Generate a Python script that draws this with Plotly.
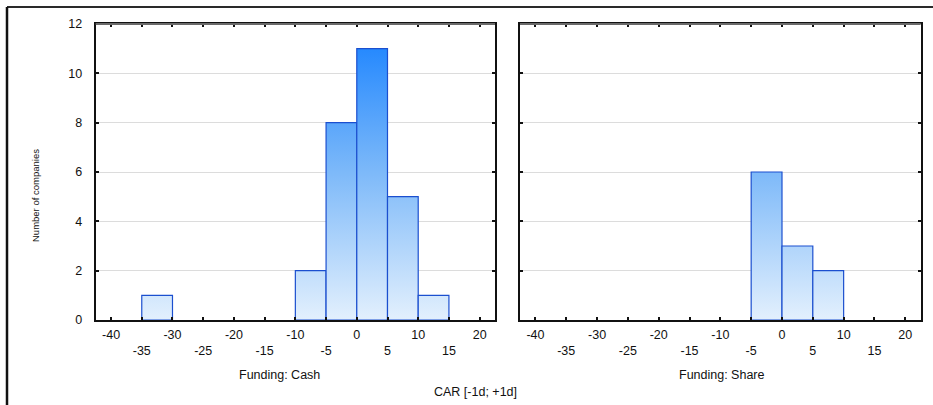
import plotly.graph_objects as go

# ---- data ----
bin_lefts = [-40, -35, -30, -25, -20, -15, -10, -5, 0, 5, 10, 15]
bin_width = 5
cash_counts = [0, 1, 0, 0, 0, 0, 2, 8, 11, 5, 1, 0]
share_counts = [0, 0, 0, 0, 0, 0, 0, 6, 3, 2, 0, 0]
panel_titles = ["Funding: Cash", "Funding: Share"]
x_title = "CAR [-1d; +1d]"
y_title = "Number of companies"
x_ticks = list(range(-40, 25, 5))
y_ticks = list(range(0, 14, 2))

W, H = 933, 405
def px(x):
    return x / W
def py(y):
    return 1 - y / H

FONT = "Liberation Sans, Arial, sans-serif"
FS = 12.5
grad = dict(type="vertical", start=0, stop=12,
            colorscale=[[0, "#e3f0fd"], [0.5, "#7db9f9"], [1, "#1580ff"]])

fig = go.Figure()
for i, counts in enumerate([cash_counts, share_counts]):
    xa = "x" if i == 0 else "x2"
    ya = "y" if i == 0 else "y2"
    for left, c in zip(bin_lefts, counts):
        if c <= 0:
            continue
        r = left + bin_width
        fig.add_trace(go.Scatter(
            x=[left, left, r, r, left], y=[0, c, c, 0, 0],
            mode="lines", fill="toself", fillgradient=grad,
            line=dict(color="#1b4fcf", width=1.2),
            xaxis=xa, yaxis=ya, showlegend=False, hoverinfo="skip"))

tick_text = [(f"<br>{v}" if v % 10 else f"{v}") for v in x_ticks]
xcommon = dict(range=[-42.5, 22.5], tickmode="array", tickvals=x_ticks, ticktext=tick_text,
               ticks="inside", ticklen=3, tickwidth=2, tickcolor="#111",
               showline=True, linecolor="#111", linewidth=2, mirror="ticks",
               showgrid=False, zeroline=False, ticklabelstandoff=2, automargin=False,
               tickfont=dict(family=FONT, size=FS, color="#111"))
ycommon = dict(range=[0, 12], tickmode="array", tickvals=y_ticks,
               ticks="inside", ticklen=3, tickwidth=2, tickcolor="#111",
               showline=True, linecolor="#111", linewidth=2, mirror="ticks",
               showgrid=True, gridcolor="#dcdcdc", gridwidth=1, zeroline=False,
               automargin=False,
               tickfont=dict(family=FONT, size=FS, color="#111"))

fig.update_layout(
    width=W, height=H, margin=dict(l=0, r=0, t=0, b=0, autoexpand=False),
    paper_bgcolor="white", plot_bgcolor="white",
    xaxis=dict(domain=[px(95.7), px(495)], anchor="y", **xcommon),
    xaxis2=dict(domain=[px(520), px(920.7)], anchor="y2", **xcommon),
    yaxis=dict(domain=[py(320), py(24)], anchor="x", ticklabelstandoff=9, **ycommon),
    yaxis2=dict(domain=[py(320), py(24)], anchor="x2", showticklabels=False, **ycommon),
    showlegend=False,
)

# panel top borders in grey and outer frame
shapes = []
for x0, x1 in [(95.7, 495), (520, 920.7)]:
    shapes.append(dict(type="line", xref="paper", yref="paper", x0=px(x0), x1=px(x1),
                       y0=py(24), y1=py(24), line=dict(color="#6a6a6a", width=2)))
shapes.append(dict(type="line", xref="paper", yref="paper", x0=px(7), x1=1, y0=py(7), y1=py(7),
                   line=dict(color="#2a2a2a", width=2)))
shapes.append(dict(type="line", xref="paper", yref="paper", x0=px(7), x1=px(7), y0=0, y1=py(7),
                   line=dict(color="#111", width=2.5)))
fig.update_layout(shapes=shapes)

ann_font = dict(family=FONT, size=FS, color="#111")
fig.add_annotation(x=px(279), y=py(375), xref="paper", yref="paper", text=panel_titles[0],
                   xanchor="center", yanchor="middle", showarrow=False, font=ann_font)
fig.add_annotation(x=px(721.5), y=py(375), xref="paper", yref="paper", text=panel_titles[1],
                   xanchor="center", yanchor="middle", showarrow=False, font=ann_font)
fig.add_annotation(x=px(475), y=py(392), xref="paper", yref="paper", text=x_title,
                   xanchor="center", yanchor="middle", showarrow=False, font=ann_font)
fig.add_annotation(x=px(35), y=py(196), xref="paper", yref="paper", text=y_title,
                   xanchor="center", yanchor="middle", textangle=-90, showarrow=False,
                   font=dict(family=FONT, size=9.5, color="#111"))

fig.write_html("out.html", config={"displayModeBar": False},
               post_script="document.body.style.margin='0';document.body.style.overflow='hidden';")
